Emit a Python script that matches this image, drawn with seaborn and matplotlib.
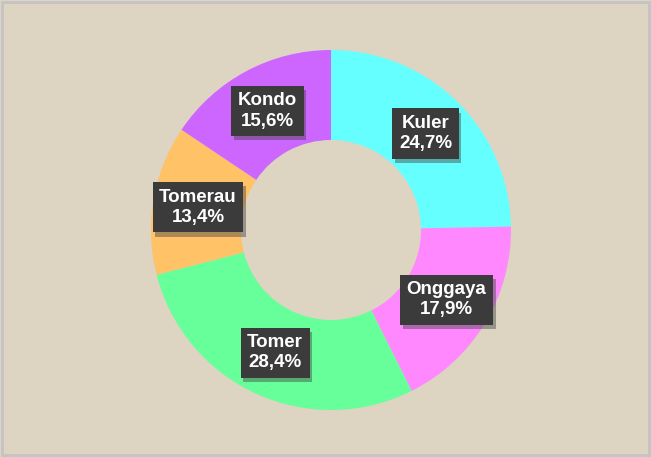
import matplotlib
matplotlib.use("Agg")
import numpy as np
import seaborn as sns
from matplotlib import pyplot as plt
from matplotlib import patheffects as pe
from matplotlib.patches import Rectangle

# data
labels = ["Kuler", "Onggaya", "Tomer", "Tomerau", "Kondo"]
values = [24.7, 17.9, 28.4, 13.4, 15.6]
colors = ["#66FFFF", "#FF88FF", "#66FF99", "#FFC266", "#CC66FF"]

sns.set_theme(style="white")
plt.rcParams['font.family'] = ['Liberation Sans', 'DejaVu Sans']

bg = "#DDD4C2"
fig = plt.figure(figsize=(6.51, 4.57), dpi=100)
fig.patch.set_facecolor(bg)
# grey frame round the chart area
fig.patches.append(Rectangle((0.003, 0.004), 0.994, 0.992, transform=fig.transFigure,
                             fill=False, edgecolor="#C4C4C4", linewidth=2))

ax = fig.add_axes([151 / 651, 47 / 457, 360 / 651, 360 / 457])
ax.set_facecolor("none")

wedges, _ = ax.pie(values, colors=colors, startangle=90, counterclock=False,
                   radius=1.0, wedgeprops=dict(width=0.5, edgecolor="none"))
ax.set_xlim(-1, 1)
ax.set_ylim(-1, 1)
ax.set_aspect("equal")
ax.axis("off")

# label boxes in the middle of the ring
for w, lab, v in zip(wedges, labels, values):
    ang = np.deg2rad((w.theta1 + w.theta2) / 2)
    r = 0.75
    t = ax.text(r * np.cos(ang), r * np.sin(ang), f"{lab}\n{v:.1f}%".replace(".", ","),
                ha="center", va="center", color="white", fontsize=13.5, fontweight="bold",
                linespacing=1.25,
                bbox=dict(boxstyle="square,pad=0.35", facecolor="#3B3B3B", edgecolor="none"))
    t.get_bbox_patch().set_path_effects([
        pe.SimplePatchShadow(offset=(2, -3), shadow_rgbFace="#444444", alpha=0.45),
        pe.Normal()])

fig.savefig("out.png", dpi=100, facecolor=fig.get_facecolor())
